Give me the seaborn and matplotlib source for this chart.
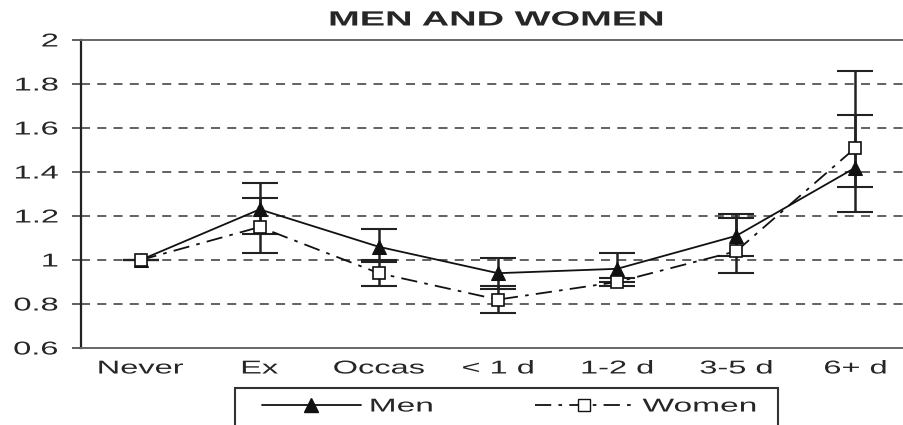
import matplotlib
matplotlib.use("Agg")
import matplotlib.pyplot as plt
import seaborn as sns
import pandas as pd
import numpy as np
from matplotlib.lines import Line2D
from matplotlib.patches import Rectangle
from matplotlib.patheffects import AbstractPathEffect
from matplotlib.transforms import Affine2D

categories = ["Never", "Ex", "Occas", "< 1 d", "1-2 d", "3-5 d", "6+ d"]
men = [1.00, 1.23, 1.06, 0.94, 0.96, 1.11, 1.42]
men_lo = [1.00, 1.12, 0.99, 0.87, 0.90, 1.02, 1.22]
men_hi = [1.00, 1.35, 1.14, 1.01, 1.03, 1.21, 1.66]
women = [1.00, 1.15, 0.94, 0.82, 0.90, 1.04, 1.51]
women_lo = [1.00, 1.03, 0.88, 0.76, 0.88, 0.94, 1.33]
women_hi = [1.00, 1.28, 1.00, 0.88, 0.92, 1.19, 1.86]
y_ticks = [0.6, 0.8, 1, 1.2, 1.4, 1.6, 1.8, 2]
y_ticklabels = ["0.6", "0.8", "1", "1.2", "1.4", "1.6", "1.8", "2"]
series_names = ["Men", "Women"]
title = "MEN AND WOMEN"


class Stretch(AbstractPathEffect):
    """Horizontally widen glyphs (reference font is a stretched Arial)."""

    def __init__(self, sx, anchor="center"):
        super().__init__()
        self.sx = sx
        self.anchor = anchor

    def draw_path(self, renderer, gc, tpath, affine, rgbFace=None):
        ext = tpath.get_extents()
        if self.anchor == "right":
            cx = ext.x1
        elif self.anchor == "left":
            cx = ext.x0
        else:
            cx = 0.5 * (ext.x0 + ext.x1)
        t = Affine2D().translate(-cx, 0).scale(self.sx, 1.0).translate(cx, 0) + affine
        renderer.draw_path(gc, tpath, t, rgbFace)


sns.set_style("white")
plt.rcParams["font.family"] = ["Liberation Sans", "DejaVu Sans"]

FS = 13.4
fig = plt.figure(figsize=(9.04, 4.25), dpi=100)
W, H = 904, 425
ax = fig.add_axes([81 / W, 1 - 348 / H, (915 - 81) / W, (348 - 40) / H])

x = np.arange(len(categories))
df = pd.DataFrame({
    "x": np.concatenate([x, x]),
    "value": men + women,
    "Sex": [series_names[0]] * len(x) + [series_names[1]] * len(x),
})

# gridlines
for yv in y_ticks[1:-1]:
    ax.axhline(yv, color="#555555", lw=1.3, ls=(0, (5, 4)), zorder=0)

# error bars
m, w = np.array(men), np.array(women)
ax.errorbar(x, men, yerr=[m - np.array(men_lo), np.array(men_hi) - m],
            fmt="none", ecolor="#222222", elinewidth=1.8, capsize=13, capthick=1.5, zorder=2)
ax.errorbar(x, women, yerr=[w - np.array(women_lo), np.array(women_hi) - w],
            fmt="none", ecolor="#222222", elinewidth=1.8, capsize=13, capthick=1.5, zorder=2)

sns.lineplot(data=df[df.Sex == "Men"], x="x", y="value", ax=ax, color="#111111",
             lw=1.3, marker="^", markersize=10.5, markerfacecolor="#111111",
             markeredgecolor="#111111", legend=False, zorder=3)
sns.lineplot(data=df[df.Sex == "Women"], x="x", y="value", ax=ax, color="#111111",
             lw=1.3, marker="s", markersize=8.5, markerfacecolor="white",
             markeredgecolor="#111111", markeredgewidth=1.2, legend=False, zorder=4)
ax.lines[-1].set_dashes([9, 4, 2, 4])

ax.set_xlim(-0.5, 6.5)
ax.set_ylim(0.6, 2.0)
ax.set_xticks(x)
xl = ax.set_xticklabels(categories, fontsize=FS)
ax.set_xticks(np.arange(0.5, 6.5, 1), minor=True)
ax.tick_params(axis="x", which="major", length=0, pad=9)
ax.tick_params(axis="x", which="minor", length=4, width=1.2, color="#444444", direction="out")
ax.set_yticks(y_ticks)
yl = ax.set_yticklabels(y_ticklabels, fontsize=FS)
ax.tick_params(axis="y", length=6.5, width=1.2, color="#444444", direction="out", pad=10, left=True)
ax.set_xlabel("")
ax.set_ylabel("")
for t in xl:
    t.set_path_effects([Stretch(1.75, "center")])
for t in yl:
    t.set_path_effects([Stretch(1.75, "right")])

for s in ["top", "bottom"]:
    ax.spines[s].set_color("#666666")
    ax.spines[s].set_linewidth(1.4)
ax.spines["left"].set_color("#222222")
ax.spines["left"].set_linewidth(1.6)
ax.spines["right"].set_visible(False)

tt = fig.text(496 / W, 1 - 20 / H, title, ha="center", va="center",
              fontsize=14.8, fontweight="bold")
tt.set_path_effects([Stretch(1.85, "center")])

h_men = Line2D([], [], color="#111111", lw=1.3, marker="^", markersize=10.5,
               markerfacecolor="#111111")
h_women = Line2D([], [], color="#111111", lw=1.3, marker="s", markersize=8.5,
                 markerfacecolor="white", markeredgecolor="#111111", dashes=[9, 4, 2, 4])
leg = fig.legend([h_men, h_women], series_names, loc="center left",
                 bbox_to_anchor=(262 / W, 1 - 407 / H), ncol=2, fontsize=FS,
                 handlelength=5.3, columnspacing=6.9, handletextpad=0.5,
                 frameon=False, borderpad=0, borderaxespad=0)
for t in leg.get_texts():
    t.set_path_effects([Stretch(1.8, "left")])
box = Rectangle((235 / W, -20 / H), (778 - 235) / W, (425 + 20 - 388) / H,
                transform=fig.transFigure, fill=False, edgecolor="#333333",
                linewidth=1.5, clip_on=False)
fig.add_artist(box)

fig.savefig("out.png", dpi=100)
